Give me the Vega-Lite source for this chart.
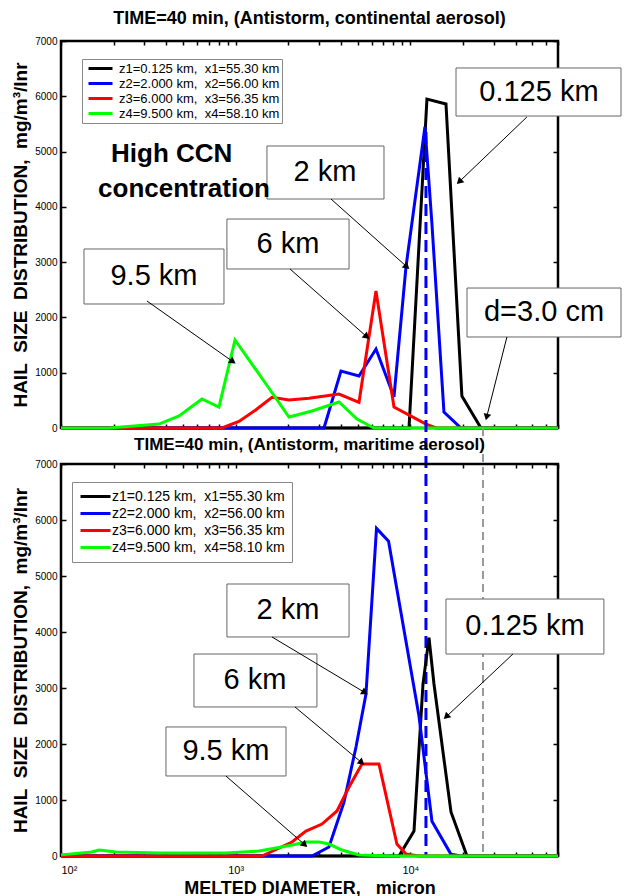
{
"$schema": "https://vega.github.io/schema/vega-lite/v6.json",
"background": "white",
"padding": {"left": 10, "top": 8, "right": 0, "bottom": 0},
"bounds": "flush",
"spacing": 36,
"config": {
  "font": "Liberation Sans",
  "view": {"stroke": "black", "strokeWidth": 2.5},
  "axis": {"domain": false, "grid": false, "tickColor": "black", "tickWidth": 1.5, "labelColor": "black", "labelFont": "Liberation Sans", "titleFont": "Liberation Sans", "titleColor": "black"},
  "title": {"font": "Liberation Sans", "color": "black"},
  "text": {"font": "Liberation Sans"}
},
"datasets": {
  "top": [
    {"s":"z1","d":100,"v":0},{"s":"z1","d":9820,"v":0},{"s":"z1","d":12440,"v":5950},{"s":"z1","d":15990,"v":5860},{"s":"z1","d":19720,"v":579},{"s":"z1","d":25350,"v":0},{"s":"z1","d":70000,"v":0},
    {"s":"z2","d":100,"v":0},{"s":"z2","d":3203,"v":0},{"s":"z2","d":4006,"v":1031},{"s":"z2","d":5080,"v":941},{"s":"z2","d":6355,"v":1429},{"s":"z2","d":8057,"v":561},{"s":"z2","d":9436,"v":2912},{"s":"z2","d":12120,"v":5450},{"s":"z2","d":13290,"v":3690},{"s":"z2","d":15570,"v":289},{"s":"z2","d":19480,"v":0},{"s":"z2","d":70000,"v":0},
    {"s":"z3","d":100,"v":0},{"s":"z3","d":835,"v":0},{"s":"z3","d":1044,"v":120},{"s":"z3","d":1307,"v":330},{"s":"z3","d":1614,"v":555},{"s":"z3","d":2019,"v":506},{"s":"z3","d":2628,"v":540},{"s":"z3","d":3903,"v":615},{"s":"z3","d":5080,"v":465},{"s":"z3","d":6355,"v":2478},{"s":"z3","d":8057,"v":380},{"s":"z3","d":12280,"v":72},{"s":"z3","d":14010,"v":0},{"s":"z3","d":70000,"v":0},
    {"s":"z4","d":100,"v":0},{"s":"z4","d":188,"v":0},{"s":"z4","d":364,"v":72},{"s":"z4","d":474,"v":217},{"s":"z4","d":641,"v":525},{"s":"z4","d":802,"v":380},{"s":"z4","d":991,"v":1592},{"s":"z4","d":1491,"v":796},{"s":"z4","d":2019,"v":199},{"s":"z4","d":2734,"v":307},{"s":"z4","d":3903,"v":470},{"s":"z4","d":4947,"v":163},{"s":"z4","d":6189,"v":0},{"s":"z4","d":70000,"v":0}
  ],
  "bottom": [
    {"s":"z1","d":100,"v":0},{"s":"z1","d":8606,"v":0},{"s":"z1","d":10490,"v":446},{"s":"z1","d":11810,"v":3071},{"s":"z1","d":12780,"v":3900},{"s":"z1","d":13650,"v":3071},{"s":"z1","d":17080,"v":786},{"s":"z1","d":21090,"v":0},{"s":"z1","d":70000,"v":0},
    {"s":"z2","d":100,"v":0},{"s":"z2","d":2734,"v":0},{"s":"z2","d":3420,"v":161},{"s":"z2","d":4170,"v":964},{"s":"z2","d":4883,"v":1946},{"s":"z2","d":5570,"v":2893},{"s":"z2","d":6400,"v":5850},{"s":"z2","d":7500,"v":5620},{"s":"z2","d":11200,"v":2500},{"s":"z2","d":13290,"v":620},{"s":"z2","d":17080,"v":30},{"s":"z2","d":19480,"v":0},{"s":"z2","d":70000,"v":0},
    {"s":"z3","d":100,"v":0},{"s":"z3","d":1414,"v":0},{"s":"z3","d":2100,"v":250},{"s":"z3","d":2526,"v":446},{"s":"z3","d":3119,"v":571},{"s":"z3","d":3802,"v":804},{"s":"z3","d":4456,"v":1232},{"s":"z3","d":5284,"v":1643},{"s":"z3","d":6610,"v":1643},{"s":"z3","d":8375,"v":214},{"s":"z3","d":9440,"v":36},{"s":"z3","d":11200,"v":0},{"s":"z3","d":70000,"v":0},
    {"s":"z4","d":100,"v":20},{"s":"z4","d":150,"v":71},{"s":"z4","d":165,"v":107},{"s":"z4","d":206,"v":71},{"s":"z4","d":364,"v":54},{"s":"z4","d":879,"v":54},{"s":"z4","d":1358,"v":89},{"s":"z4","d":1701,"v":143},{"s":"z4","d":2100,"v":196},{"s":"z4","d":2526,"v":250},{"s":"z4","d":3000,"v":250},{"s":"z4","d":3420,"v":214},{"s":"z4","d":4060,"v":107},{"s":"z4","d":5080,"v":18},{"s":"z4","d":7850,"v":0},{"s":"z4","d":70000,"v":0}
  ],
  "boxTop": [
    {"x":18250,"x2":160600,"y":6512,"y2":5643,"tx":54450,"ty":6078,"t":"0.125 km"},
    {"x":1510,"x2":7063,"y":5101,"y2":4142,"tx":3245,"ty":4631,"t":"2 km"},
    {"x":891,"x2":4456,"y":3780,"y2":2876,"tx":1991,"ty":3328,"t":"6 km"},
    {"x":135.4,"x2":857,"y":3238,"y2":2243,"tx":340.6,"ty":2749,"t":"9.5 km"},
    {"x":21090,"x2":160600,"y":2532,"y2":1646,"tx":58200,"ty":2098,"t":"d=3.0 cm"}
  ],
  "arrTop": [
    {"x":46450,"y":5625,"x2":19240,"y2":4468,"a":226},
    {"x":3513,"y":4142,"x2":9440,"y2":2930,"a":132},
    {"x":2047,"y":2876,"x2":5570,"y2":1664,"a":131},
    {"x":310.6,"y":2297,"x2":952,"y2":1212,"a":125},
    {"x":35700,"y":1646,"x2":27430,"y2":217,"a":194}
  ],
  "ccn": [
    {"tx":430,"ty":4956,"t":"High CCN"},
    {"tx":506,"ty":4323,"t":"concentration"}
  ],
  "boxBot": [
    {"x":891,"x2":4456,"y":4857,"y2":3911,"tx":1991,"ty":4393,"t":"2 km"},
    {"x":15990,"x2":128200,"y":4589,"y2":3607,"tx":45290,"ty":4107,"t":"0.125 km"},
    {"x":577,"x2":2918,"y":3607,"y2":2661,"tx":1289,"ty":3143,"t":"6 km"},
    {"x":399,"x2":1941,"y":2304,"y2":1429,"tx":879,"ty":1875,"t":"9.5 km"}
  ],
  "arrBot": [
    {"x":1614,"y":3911,"x2":5420,"y2":2929,"a":121},
    {"x":38640,"y":3607,"x2":16210,"y2":2500,"a":227},
    {"x":2185,"y":2661,"x2":5212,"y2":1679,"a":130},
    {"x":879,"y":1429,"x2":2460,"y2":214,"a":131}
  ]
},
"resolve": {"scale": {"color": "independent"}, "legend": {"color": "independent"}},
"vconcat": [
  {
    "width": 497, "height": 387,
    "title": {"text": "TIME=40 min, (Antistorm, continental aerosol)", "fontSize": 18, "fontWeight": "bold", "offset": 8, "anchor": "middle", "frame": "group"},
    "layer": [
      {"data": {"name": "top"}, "mark": {"type": "line", "strokeWidth": 3},
       "encoding": {
         "x": {"field": "d", "type": "quantitative", "scale": {"type": "log", "domain": [100, 70000], "nice": false},
               "axis": {"values": [100,200,300,400,500,600,700,800,900,1000,2000,3000,4000,5000,6000,7000,8000,9000,10000,20000,30000,40000,50000,60000,70000], "labels": false, "title": null, "tickSize": -4}},
         "y": {"field": "v", "type": "quantitative", "scale": {"domain": [0, 7000], "nice": false},
               "axis": {"values": [0,1000,2000,3000,4000,5000,6000,7000], "format": "d", "title": "HAIL\u00a0\u00a0SIZE\u00a0\u00a0DISTRIBUTION,\u00a0\u00a0mg/m³/lnr", "titleFontSize": 19, "titleFontWeight": "bold", "titlePadding": 4, "labelFontSize": 10, "tickSize": -5, "labelPadding": 9}},
         "color": {"field": "s", "type": "nominal", "scale": {"domain": ["z1","z2","z3","z4"], "range": ["#000000","#0000ff","#ff0000","#00ff00"]},
                   "legend": {"orient": "none", "legendX": 21, "legendY": 18, "title": null,
                              "labelExpr": "datum.label=='z1'?'z1=0.125 km,\u00a0\u00a0x1=55.30 km':datum.label=='z2'?'z2=2.000 km,\u00a0\u00a0x2=56.00 km':datum.label=='z3'?'z3=6.000 km,\u00a0\u00a0x3=56.35 km':'z4=9.500 km,\u00a0\u00a0x4=58.10 km'",
                              "symbolType": "M-1.42,0M-0.5,0H3.5", "symbolSize": 144, "symbolStrokeWidth": 3, "labelFontSize": 13, "labelLimit": 0, "labelFont": "Liberation Sans", "labelColor": "black",
                              "strokeColor": "#888", "fillColor": "white", "padding": 2, "rowPadding": 0, "labelOffset": 20}}
       }},
      {"data": {"name": "boxTop"}, "mark": {"type": "rect", "fill": "white", "stroke": "#666", "strokeWidth": 1},
       "encoding": {
         "x": {"field": "x", "type": "quantitative", "scale": {"type": "log", "domain": [100, 70000], "nice": false}, "axis": null},
         "x2": {"field": "x2"},
         "y": {"field": "y", "type": "quantitative", "scale": {"domain": [0, 7000], "nice": false}, "axis": null},
         "y2": {"field": "y2"}
       }},
      {"data": {"name": "boxTop"}, "mark": {"type": "text", "fontSize": 29, "color": "black", "align": "center", "baseline": "middle"},
       "encoding": {
         "x": {"field": "tx", "type": "quantitative", "scale": {"type": "log", "domain": [100, 70000], "nice": false}, "axis": null},
         "y": {"field": "ty", "type": "quantitative", "scale": {"domain": [0, 7000], "nice": false}, "axis": null},
         "text": {"field": "t"}
       }},
      {"data": {"name": "ccn"}, "mark": {"type": "text", "fontSize": 26, "fontWeight": "bold", "color": "black", "align": "center", "baseline": "middle"},
       "encoding": {
         "x": {"field": "tx", "type": "quantitative", "scale": {"type": "log", "domain": [100, 70000], "nice": false}, "axis": null},
         "y": {"field": "ty", "type": "quantitative", "scale": {"domain": [0, 7000], "nice": false}, "axis": null},
         "text": {"field": "t"}
       }},
      {"data": {"name": "arrTop"}, "mark": {"type": "rule", "color": "black", "strokeWidth": 1},
       "encoding": {
         "x": {"field": "x", "type": "quantitative", "scale": {"type": "log", "domain": [100, 70000], "nice": false}, "axis": null},
         "x2": {"field": "x2"},
         "y": {"field": "y", "type": "quantitative", "scale": {"domain": [0, 7000], "nice": false}, "axis": null},
         "y2": {"field": "y2"}
       }},
      {"data": {"name": "arrTop"}, "mark": {"type": "point", "shape": "triangle", "filled": true, "color": "black", "size": 60, "opacity": 1},
       "encoding": {
         "x": {"field": "x2", "type": "quantitative", "scale": {"type": "log", "domain": [100, 70000], "nice": false}, "axis": null},
         "y": {"field": "y2", "type": "quantitative", "scale": {"domain": [0, 7000], "nice": false}, "axis": null},
         "angle": {"field": "a", "type": "quantitative", "scale": null}
       }},
      {"data": {"values": [{}]}, "mark": {"type": "rule", "color": "#0000ff", "strokeWidth": 3, "strokeDash": [12, 6]},
       "encoding": {
         "x": {"datum": 12280, "type": "quantitative", "scale": {"type": "log", "domain": [100, 70000], "nice": false}, "axis": null},
         "y": {"datum": 5354, "type": "quantitative", "scale": {"domain": [0, 7000], "nice": false}, "axis": null},
         "y2": {"datum": -7742}
       }},
      {"data": {"values": [{}]}, "mark": {"type": "rule", "color": "#999999", "strokeWidth": 2, "strokeDash": [8, 5]},
       "encoding": {
         "x": {"datum": 26040, "type": "quantitative", "scale": {"type": "log", "domain": [100, 70000], "nice": false}, "axis": null},
         "y": {"datum": 0, "type": "quantitative", "scale": {"domain": [0, 7000], "nice": false}, "axis": null},
         "y2": {"datum": -7742}
       }},
      {"data": {"name": "top"}, "mark": {"type": "point", "opacity": 0},
       "encoding": {
         "x": {"field": "d", "type": "quantitative", "scale": {"type": "log", "domain": [100, 70000], "nice": false},
               "axis": {"orient": "top", "values": [100,200,300,400,500,600,700,800,900,1000,2000,3000,4000,5000,6000,7000,8000,9000,10000,20000,30000,40000,50000,60000,70000], "labels": false, "title": null, "tickSize": -4}},
         "y": {"field": "v", "type": "quantitative", "scale": {"domain": [0, 7000], "nice": false},
               "axis": {"orient": "right", "values": [0,1000,2000,3000,4000,5000,6000,7000], "labels": false, "title": null, "tickSize": -5}}
       }}
    ],
    "resolve": {"axis": {"x": "independent", "y": "independent"}}
  },
  {
    "width": 497, "height": 392,
    "title": {"text": "TIME=40 min, (Antistorm, maritime aerosol)", "fontSize": 17, "fontWeight": "bold", "offset": 5, "anchor": "middle", "frame": "group"},
    "layer": [
      {"data": {"name": "bottom"}, "mark": {"type": "line", "strokeWidth": 3},
       "encoding": {
         "x": {"field": "d", "type": "quantitative", "scale": {"type": "log", "domain": [100, 70000], "nice": false},
               "axis": {"values": [100,200,300,400,500,600,700,800,900,1000,2000,3000,4000,5000,6000,7000,8000,9000,10000,20000,30000,40000,50000,60000,70000],
                        "labelExpr": "datum.value==100?'10²':datum.value==1000?'10³':datum.value==10000?'10⁴':''", "labelFontSize": 11, "labelPadding": 12, "labelOverlap": false, "tickSize": -4,
                        "title": "MELTED DIAMETER,\u00a0\u00a0\u00a0micron", "titleFontSize": 18, "titleFontWeight": "bold", "titlePadding": 4}},
         "y": {"field": "v", "type": "quantitative", "scale": {"domain": [0, 7000], "nice": false},
               "axis": {"values": [0,1000,2000,3000,4000,5000,6000,7000], "format": "d", "title": "HAIL\u00a0\u00a0SIZE\u00a0\u00a0DISTRIBUTION,\u00a0\u00a0mg/m³/lnr", "titleFontSize": 19, "titleFontWeight": "bold", "titlePadding": 4, "labelFontSize": 10, "tickSize": -5, "labelPadding": 9}},
         "color": {"field": "s", "type": "nominal", "scale": {"domain": ["z1","z2","z3","z4"], "range": ["#000000","#0000ff","#ff0000","#00ff00"]},
                   "legend": {"orient": "none", "legendX": 11, "legendY": 18, "title": null,
                              "labelExpr": "datum.label=='z1'?'z1=0.125 km,\u00a0\u00a0x1=55.30 km':datum.label=='z2'?'z2=2.000 km,\u00a0\u00a0x2=56.00 km':datum.label=='z3'?'z3=6.000 km,\u00a0\u00a0x3=56.35 km':'z4=9.500 km,\u00a0\u00a0x4=58.10 km'",
                              "symbolType": "M-1,0H4", "symbolSize": 144, "symbolStrokeWidth": 3, "labelFontSize": 14, "labelLimit": 0, "labelFont": "Liberation Sans", "labelColor": "black",
                              "strokeColor": "#888", "fillColor": "white", "padding": 7, "rowPadding": 2, "labelOffset": 18}}
       }},
      {"data": {"name": "boxBot"}, "mark": {"type": "rect", "fill": "white", "stroke": "#666", "strokeWidth": 1},
       "encoding": {
         "x": {"field": "x", "type": "quantitative", "scale": {"type": "log", "domain": [100, 70000], "nice": false}, "axis": null},
         "x2": {"field": "x2"},
         "y": {"field": "y", "type": "quantitative", "scale": {"domain": [0, 7000], "nice": false}, "axis": null},
         "y2": {"field": "y2"}
       }},
      {"data": {"name": "boxBot"}, "mark": {"type": "text", "fontSize": 29, "color": "black", "align": "center", "baseline": "middle"},
       "encoding": {
         "x": {"field": "tx", "type": "quantitative", "scale": {"type": "log", "domain": [100, 70000], "nice": false}, "axis": null},
         "y": {"field": "ty", "type": "quantitative", "scale": {"domain": [0, 7000], "nice": false}, "axis": null},
         "text": {"field": "t"}
       }},
      {"data": {"name": "arrBot"}, "mark": {"type": "rule", "color": "black", "strokeWidth": 1},
       "encoding": {
         "x": {"field": "x", "type": "quantitative", "scale": {"type": "log", "domain": [100, 70000], "nice": false}, "axis": null},
         "x2": {"field": "x2"},
         "y": {"field": "y", "type": "quantitative", "scale": {"domain": [0, 7000], "nice": false}, "axis": null},
         "y2": {"field": "y2"}
       }},
      {"data": {"name": "arrBot"}, "mark": {"type": "point", "shape": "triangle", "filled": true, "color": "black", "size": 60, "opacity": 1},
       "encoding": {
         "x": {"field": "x2", "type": "quantitative", "scale": {"type": "log", "domain": [100, 70000], "nice": false}, "axis": null},
         "y": {"field": "y2", "type": "quantitative", "scale": {"domain": [0, 7000], "nice": false}, "axis": null},
         "angle": {"field": "a", "type": "quantitative", "scale": null}
       }},
      {"data": {"name": "bottom"}, "mark": {"type": "point", "opacity": 0},
       "encoding": {
         "x": {"field": "d", "type": "quantitative", "scale": {"type": "log", "domain": [100, 70000], "nice": false},
               "axis": {"orient": "top", "values": [100,200,300,400,500,600,700,800,900,1000,2000,3000,4000,5000,6000,7000,8000,9000,10000,20000,30000,40000,50000,60000,70000], "labels": false, "title": null, "tickSize": -4}},
         "y": {"field": "v", "type": "quantitative", "scale": {"domain": [0, 7000], "nice": false},
               "axis": {"orient": "right", "values": [0,1000,2000,3000,4000,5000,6000,7000], "labels": false, "title": null, "tickSize": -5}}
       }}
    ],
    "resolve": {"axis": {"x": "independent", "y": "independent"}}
  }
]
}
